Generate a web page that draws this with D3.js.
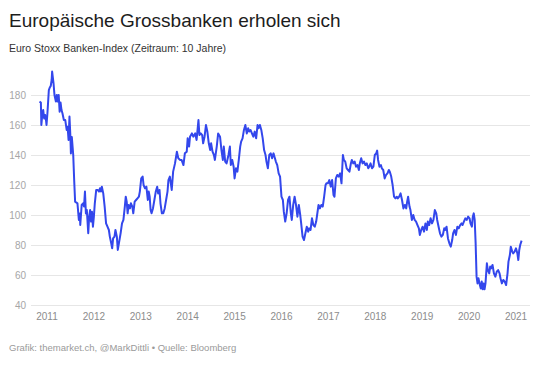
<!DOCTYPE html>
<html>
<head>
<meta charset="utf-8">
<script src="https://cdn.jsdelivr.net/npm/d3@7"></script>
<style>
  body { margin: 0; background: #fff; }
  svg text { font-family: "Liberation Sans", Arial, Helvetica, sans-serif; }
</style>
</head>
<body>
<div id="chart"></div>
<script>
// Euro Stoxx Banken-Index (decimal years / index level)
const years = [
  2010.85, 2010.88, 2010.89, 2010.91, 2010.93, 2010.95, 2010.97, 2010.99, 2011.00, 2011.02,
  2011.05, 2011.07, 2011.09, 2011.11, 2011.12, 2011.15, 2011.17, 2011.20, 2011.22, 2011.24,
  2011.26, 2011.28, 2011.30, 2011.32, 2011.34, 2011.37, 2011.40, 2011.43, 2011.45, 2011.47,
  2011.49, 2011.51, 2011.52, 2011.54, 2011.57, 2011.59, 2011.61, 2011.64, 2011.66, 2011.69,
  2011.71, 2011.72, 2011.75, 2011.78, 2011.80, 2011.82, 2011.84, 2011.86, 2011.89, 2011.91,
  2011.93, 2011.95, 2011.97, 2011.99, 2012.01, 2012.03, 2012.06, 2012.09, 2012.12, 2012.14,
  2012.16, 2012.18, 2012.21, 2012.24, 2012.27, 2012.30, 2012.33, 2012.35, 2012.38, 2012.40,
  2012.42, 2012.45, 2012.47, 2012.50, 2012.52, 2012.55, 2012.58, 2012.61, 2012.64, 2012.67,
  2012.69, 2012.71, 2012.73, 2012.75, 2012.78, 2012.80, 2012.83, 2012.85, 2012.88, 2012.91,
  2012.94, 2012.97, 2012.99, 2013.02, 2013.05, 2013.07, 2013.10, 2013.13, 2013.16, 2013.18,
  2013.20, 2013.22, 2013.24, 2013.27, 2013.30, 2013.33, 2013.36, 2013.38, 2013.41, 2013.43,
  2013.46, 2013.49, 2013.52, 2013.55, 2013.58, 2013.60, 2013.63, 2013.67, 2013.70, 2013.74,
  2013.78, 2013.81, 2013.85, 2013.88, 2013.92, 2013.95, 2013.99, 2014.01, 2014.04, 2014.06,
  2014.10, 2014.13, 2014.17, 2014.20, 2014.24, 2014.26, 2014.29, 2014.32, 2014.34, 2014.37,
  2014.40, 2014.43, 2014.46, 2014.49, 2014.51, 2014.54, 2014.57, 2014.59, 2014.63, 2014.66,
  2014.70, 2014.73, 2014.76, 2014.78, 2014.81, 2014.84, 2014.88, 2014.91, 2014.93, 2014.96,
  2014.99, 2015.01, 2015.04, 2015.07, 2015.10, 2015.13, 2015.15, 2015.18, 2015.21, 2015.24,
  2015.27, 2015.30, 2015.32, 2015.35, 2015.38, 2015.41, 2015.44, 2015.47, 2015.50, 2015.52,
  2015.55, 2015.58, 2015.61, 2015.64, 2015.67, 2015.69, 2015.72, 2015.75, 2015.78, 2015.81,
  2015.84, 2015.87, 2015.89, 2015.92, 2015.95, 2015.98, 2016.01, 2016.04, 2016.06, 2016.09,
  2016.12, 2016.15, 2016.18, 2016.21, 2016.23, 2016.26, 2016.29, 2016.32, 2016.35, 2016.38,
  2016.41, 2016.43, 2016.46, 2016.49, 2016.52, 2016.55, 2016.58, 2016.60, 2016.63, 2016.66,
  2016.69, 2016.72, 2016.75, 2016.77, 2016.80, 2016.83, 2016.86, 2016.89, 2016.92, 2016.95,
  2016.97, 2017.00, 2017.03, 2017.06, 2017.09, 2017.12, 2017.14, 2017.17, 2017.20, 2017.23,
  2017.26, 2017.29, 2017.32, 2017.34, 2017.37, 2017.40, 2017.43, 2017.46, 2017.49, 2017.51,
  2017.54, 2017.57, 2017.60, 2017.63, 2017.66, 2017.68, 2017.71, 2017.74, 2017.77, 2017.80,
  2017.83, 2017.86, 2017.88, 2017.91, 2017.94, 2017.97, 2018.00, 2018.03, 2018.05, 2018.07,
  2018.10, 2018.13, 2018.15, 2018.18, 2018.21, 2018.24, 2018.27, 2018.30, 2018.32, 2018.35,
  2018.38, 2018.41, 2018.44, 2018.47, 2018.49, 2018.52, 2018.55, 2018.58, 2018.61, 2018.64,
  2018.67, 2018.69, 2018.71, 2018.74, 2018.76, 2018.79, 2018.82, 2018.85, 2018.88, 2018.91,
  2018.94, 2018.96, 2018.99, 2019.02, 2019.05, 2019.08, 2019.11, 2019.13, 2019.16, 2019.19,
  2019.22, 2019.25, 2019.28, 2019.31, 2019.33, 2019.36, 2019.39, 2019.42, 2019.45, 2019.48,
  2019.50, 2019.53, 2019.56, 2019.59, 2019.62, 2019.65, 2019.67, 2019.70, 2019.73, 2019.76,
  2019.79, 2019.82, 2019.85, 2019.87, 2019.90, 2019.93, 2019.96, 2019.99, 2020.02, 2020.04,
  2020.07, 2020.09, 2020.11, 2020.13, 2020.15, 2020.17, 2020.19, 2020.21, 2020.24, 2020.26,
  2020.28, 2020.30, 2020.32, 2020.34, 2020.36, 2020.39, 2020.41, 2020.44, 2020.46, 2020.48,
  2020.51, 2020.54, 2020.57, 2020.60, 2020.63, 2020.66, 2020.68, 2020.71, 2020.74, 2020.77,
  2020.80, 2020.83, 2020.85, 2020.88, 2020.90, 2020.93, 2020.95, 2020.98, 2021.01, 2021.04,
  2021.06, 2021.08, 2021.10, 2021.13
];
const index = [
  175.6, 175, 160, 166.7, 170, 164.4, 166.7, 163, 160, 168,
  183.3, 185, 186, 190, 195.6, 187.8, 180, 175.6, 180, 175.6,
  180, 168.9, 175, 170, 167.8, 163.3, 163.3, 156.7, 158.9, 150,
  165.6, 152, 141, 152, 140, 123.3, 108.9, 108.2, 107.8, 96.7,
  101, 93.3, 106.7, 107.8, 105.6, 115.6, 101, 103.3, 87.8, 98.9,
  103.3, 95.6, 102.2, 92.2, 98.9, 107.8, 116.7, 116.7, 115.6, 117.8,
  115.6, 118.9, 114.4, 105.6, 94.4, 92.2, 90, 85.6, 81.1, 77.8,
  84.4, 85.6, 90, 85.6, 76.7, 82.2, 87.8, 94.4, 96.7, 105.6,
  112.2, 108.9, 101.1, 106.7, 104.4, 107.8, 105.6, 101.1, 108.9, 110,
  111.1, 112.2, 115.6, 124.4, 125.6, 120, 117.8, 118.9, 110, 115.6,
  112.2, 103.3, 101.1, 104.4, 110, 115.6, 118.9, 114.4, 116.7, 107.8,
  101.1, 101.1, 104.4, 110, 115.6, 123.3, 125.6, 116.7, 128.9, 134.4,
  142.2, 137.8, 136.7, 136.7, 133.3, 141.1, 142.2, 151.1, 145.6, 152.2,
  154.4, 152.2, 154.4, 150, 163.3, 153.3, 154.4, 153.3, 147.8, 152.2,
  160, 155.6, 147.8, 143.3, 147.8, 142.2, 140, 136.7, 145.6, 154.4,
  152.2, 143.3, 136.7, 145.6, 135.6, 134.4, 140, 145.6, 133.3, 136.7,
  132.2, 124.4, 131.1, 128.9, 136.7, 145.6, 148.9, 151.1, 156.7, 160,
  154.4, 157.8, 155.6, 156.7, 154.4, 152.2, 155.6, 151.1, 160, 157.8,
  160, 156.7, 151.1, 143.3, 140, 135.6, 131.1, 140, 141.1, 137.8,
  141.1, 137.8, 135.6, 133.3, 127.8, 125.6, 112.2, 110, 102.2, 95.6,
  101.1, 110, 112.2, 101.1, 96.7, 106.7, 112.2, 106.7, 98.9, 106.7,
  100, 94.4, 85.6, 83.3, 87.8, 92.2, 88.9, 91.1, 90, 97.8,
  93.3, 92.2, 95.6, 100, 106.7, 104.4, 106.7, 105.6, 112.2, 120,
  121.1, 121.1, 123.3, 118.9, 123.3, 113.3, 112.2, 124.4, 126.7, 125.6,
  127.8, 121.1, 140, 136.7, 135.6, 131.1, 130, 128.9, 134.4, 136.7,
  134.4, 135.6, 132.2, 133.3, 130, 134.4, 137.8, 134.4, 135.6, 133.3,
  134.4, 131.1, 132.2, 134.4, 131.1, 132.2, 140, 141.1, 142.9, 136.7,
  132.2, 133.3, 131.1, 130, 124.4, 126.7, 127.8, 130, 128.9, 125.6,
  120, 112.2, 111.1, 112.2, 111.1, 112.2, 114.4, 110, 104.4, 106.7,
  104.4, 108.9, 112.2, 105.6, 103.3, 96.7, 100, 96.7, 95.6, 93.3,
  91.1, 86.7, 90, 92.2, 88.9, 94.4, 90, 95.6, 93.3, 97.8,
  94.4, 96.7, 103.3, 101.1, 96.7, 92.2, 87.8, 85.6, 86.7, 91.1,
  90, 92.2, 84.4, 81.1, 78.9, 83.3, 87.8, 90, 86.7, 92.2,
  91.1, 93.3, 94.4, 93.3, 95.6, 97.8, 96.7, 98.9, 97.8, 94.4,
  92.2, 98.9, 101.1, 96.7, 81.1, 58.9, 54.4, 57.8, 53.3, 51,
  55.6, 50.5, 54.4, 50.5, 54.4, 67.8, 63.3, 61.1, 65.6, 64.4,
  66.7, 61.1, 58.9, 62.2, 63.3, 61.1, 57.8, 54.4, 56.7, 55.6,
  53.3, 61.1, 68.9, 73.3, 78.9, 75.6, 74.4, 75.6, 77.8, 74.4,
  70, 76.7, 80, 82.9
];
const yearTicks = [2011, 2012, 2013, 2014, 2015, 2016, 2017, 2018, 2019, 2020, 2021];
const valueTicks = [40, 60, 80, 100, 120, 140, 160, 180];

const title = 'Europäische Grossbanken erholen sich';
const subtitle = 'Euro Stoxx Banken-Index (Zeitraum: 10 Jahre)';
const footer = 'Grafik: themarket.ch, @MarkDittli • Quelle: Bloomberg';

const width = 540, height = 366;
const margin = { top: 95, right: 10, bottom: 61, left: 31 };

const svg = d3.select('#chart').append('svg')
  .attr('width', width)
  .attr('height', height);

// Header
svg.append('text')
  .attr('x', 9).attr('y', 27)
  .attr('fill', '#1d1d1d')
  .style('font-size', '19px')
  .text(title);

svg.append('text')
  .attr('x', 9).attr('y', 52)
  .attr('fill', '#333')
  .style('font-size', '10.5px')
  .text(subtitle);

// Scales
const x = d3.scaleLinear()
  .domain([2011, 2021])
  .range([46.5, 515.5]);

const y = d3.scaleLinear()
  .domain([40, 180])
  .range([height - margin.bottom, margin.top]);

// Gridlines + y labels
const yAxis = svg.append('g')
  .attr('transform', `translate(${margin.left},0)`)
  .call(d3.axisLeft(y)
    .tickValues(valueTicks)
    .tickSize(-(width - margin.left - margin.right))
    .tickPadding(5));
yAxis.select('.domain').remove();
yAxis.selectAll('.tick line').attr('stroke', '#e6e6e6');
yAxis.selectAll('.tick text')
  .attr('fill', '#a6a6a6')
  .style('font-size', '10px');

// x labels
const xAxis = svg.append('g')
  .attr('transform', `translate(0,${height - margin.bottom})`)
  .call(d3.axisBottom(x)
    .tickValues(yearTicks)
    .tickFormat(d3.format('d'))
    .tickSize(0)
    .tickPadding(8));
xAxis.select('.domain').remove();
xAxis.selectAll('.tick text')
  .attr('fill', '#8c8c8c')
  .style('font-size', '10px');

// Line
const points = years.map((yr, i) => ({ yr, v: index[i] }));
const line = d3.line()
  .x(d => x(d.yr))
  .y(d => y(d.v));

svg.append('path')
  .datum(points)
  .attr('fill', 'none')
  .attr('stroke', '#3347ec')
  .attr('stroke-width', 2)
  .attr('stroke-linejoin', 'round')
  .attr('d', line);

// Footer
svg.append('text')
  .attr('x', 9).attr('y', 351)
  .attr('fill', '#9a9a9a')
  .style('font-size', '9.5px')
  .text(footer);
</script>
</body>
</html>
